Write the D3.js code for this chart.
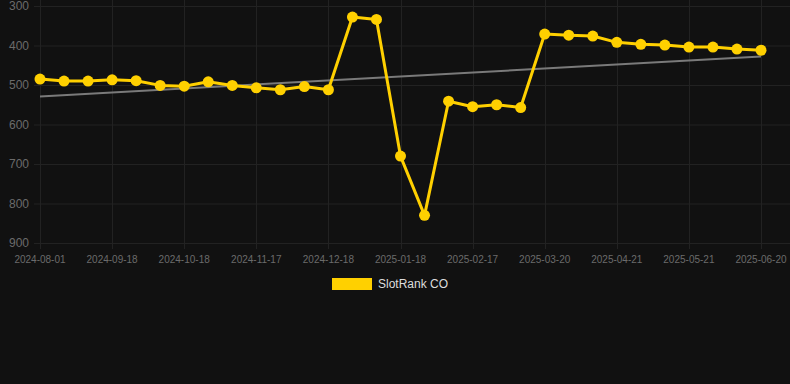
<!DOCTYPE html>
<html>
<head>
<meta charset="utf-8">
<script src="https://cdn.jsdelivr.net/npm/d3@7"></script>
<style>
  body { margin: 0; background: #111111; }
  svg { display: block; font-family: Arial, "Liberation Sans", sans-serif; }
</style>
</head>
<body>
<svg id="chart" width="790" height="384"></svg>
<script>
// dates, one per point (only every 3rd is labelled on the axis)
var dates = [
  "2024-08-01", "2024-08-17", "2024-09-02", "2024-09-18", "2024-09-28", "2024-10-08",
  "2024-10-18", "2024-10-28", "2024-11-07", "2024-11-17", "2024-11-27", "2024-12-08",
  "2024-12-18", "2024-12-29", "2025-01-08", "2025-01-18", "2025-01-28", "2025-02-07",
  "2025-02-17", "2025-02-27", "2025-03-10", "2025-03-20", "2025-03-31", "2025-04-10",
  "2025-04-21", "2025-05-01", "2025-05-11", "2025-05-21", "2025-05-31", "2025-06-10",
  "2025-06-20"
];
var ranks = [
  485, 490, 490, 487, 489, 501, 503, 492, 501, 507, 512, 504, 512, 328, 334,
  680, 830, 541, 555, 550, 557, 371, 374, 376, 392, 397, 399, 404, 404, 409, 412
];
// trend line, first and last value
var trend = [529, 428];
var yTicks = [300, 400, 500, 600, 700, 800, 900];
var seriesName = "SlotRank CO";

var gold = "#ffd000";
var gridColor = "#222222";
var labelColor = "#6b6b6b";

var svg = d3.select("#chart");

var x = d3.scalePoint()
  .domain(dates)
  .range([40, 761]);

// rank axis is inverted: 300 on top
var y = d3.scaleLinear()
  .domain([300, 900])
  .range([6, 243]);

// horizontal grid
svg.append("g")
  .selectAll("line")
  .data(yTicks)
  .enter().append("line")
  .attr("x1", 34)
  .attr("x2", 790)
  .attr("y1", function(d) { return y(d) + 0.5; })
  .attr("y2", function(d) { return y(d) + 0.5; })
  .attr("stroke", gridColor)
  .attr("stroke-width", 1);

var tickDates = dates.filter(function(d, i) { return i % 3 == 0; });

// vertical grid
svg.append("g")
  .selectAll("line")
  .data(tickDates)
  .enter().append("line")
  .attr("x1", function(d) { return Math.round(x(d)) + 0.5; })
  .attr("x2", function(d) { return Math.round(x(d)) + 0.5; })
  .attr("y1", 0)
  .attr("y2", 249)
  .attr("stroke", gridColor)
  .attr("stroke-width", 1);

// y labels
svg.append("g")
  .selectAll("text")
  .data(yTicks)
  .enter().append("text")
  .attr("x", 29)
  .attr("y", function(d) { return y(d); })
  .attr("dy", "0.36em")
  .attr("text-anchor", "end")
  .attr("fill", labelColor)
  .attr("font-size", "12px")
  .text(function(d) { return d; });

// x labels
svg.append("g")
  .selectAll("text")
  .data(tickDates)
  .enter().append("text")
  .attr("x", function(d) { return x(d); })
  .attr("y", 259)
  .attr("dy", "0.35em")
  .attr("text-anchor", "middle")
  .attr("fill", labelColor)
  .attr("font-size", "10px")
  .text(function(d) { return d; });

// trend line
svg.append("line")
  .attr("x1", x(dates[0]))
  .attr("x2", x(dates[dates.length - 1]))
  .attr("y1", y(trend[0]))
  .attr("y2", y(trend[1]))
  .attr("stroke", "#7a7a7a")
  .attr("stroke-width", 2);

var data = dates.map(function(d, i) { return { date: d, rank: ranks[i] }; });

var line = d3.line()
  .x(function(d) { return x(d.date); })
  .y(function(d) { return y(d.rank); });

svg.append("path")
  .datum(data)
  .attr("d", line)
  .attr("fill", "none")
  .attr("stroke", gold)
  .attr("stroke-width", 3)
  .attr("stroke-linejoin", "round");

svg.append("g")
  .selectAll("circle")
  .data(data)
  .enter().append("circle")
  .attr("cx", function(d) { return x(d.date); })
  .attr("cy", function(d) { return y(d.rank); })
  .attr("r", 5.5)
  .attr("fill", gold);

// legend
var legend = svg.append("g");
legend.append("rect")
  .attr("x", 332)
  .attr("y", 278)
  .attr("width", 40)
  .attr("height", 12)
  .attr("fill", gold);
legend.append("text")
  .attr("x", 378)
  .attr("y", 284)
  .attr("dy", "0.35em")
  .attr("fill", "#dddddd")
  .attr("font-size", "12px")
  .text(seriesName);
</script>
</body>
</html>
